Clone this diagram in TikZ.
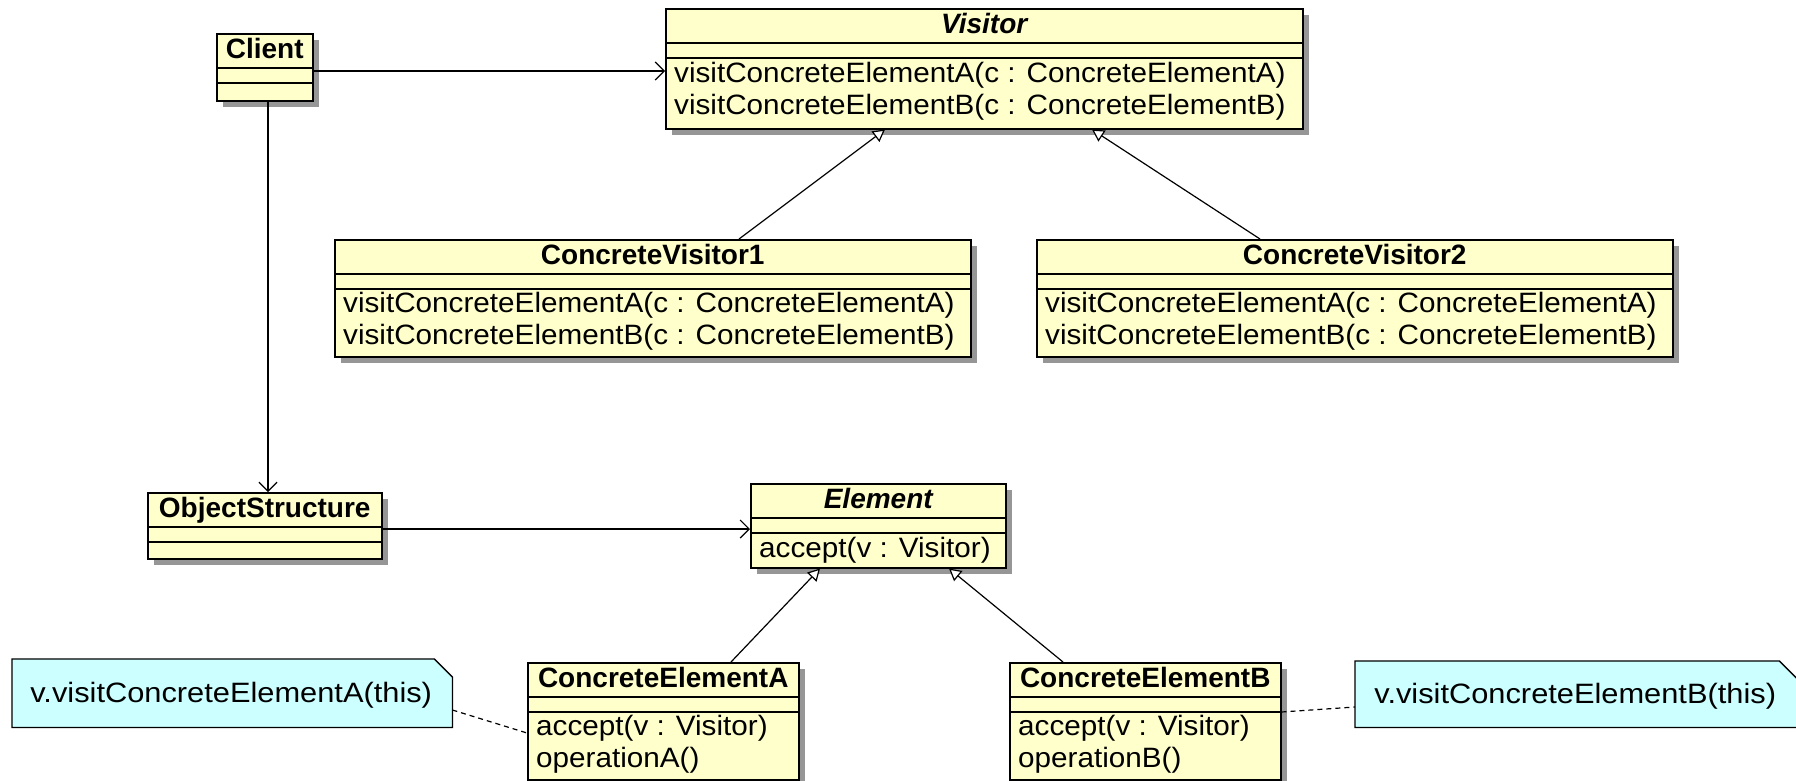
\documentclass[tikz,border=0pt]{standalone}
\usepackage{fontspec}
\setmainfont[FakeStretch=1.06]{Liberation Sans}
\newfontfamily\titlefam[FakeStretch=1.0]{Liberation Sans}
\newfontfamily\notefam[FakeStretch=1.1]{Liberation Sans}
\usetikzlibrary{arrows.meta,calc}
\definecolor{classfill}{RGB}{255,255,204}
\definecolor{notefill}{RGB}{204,255,255}
\definecolor{shadowc}{RGB}{150,150,150}
\tikzset{
  classnode/.style={draw=black, line width=1.5pt, fill=classfill, inner sep=0pt, anchor=north west},
  divider/.style={line width=1.3pt},
  titletext/.style={font=\titlefam\fontsize{28}{30}\selectfont\bfseries, anchor=base, inner sep=0pt},
  abstracttext/.style={font=\titlefam\fontsize{28}{30}\selectfont\bfseries\itshape, anchor=base, inner sep=0pt},
  methodtext/.style={font=\fontsize{28}{30}\selectfont, anchor=base west, inner sep=0pt},
  notetext/.style={font=\notefam\fontsize{28}{30}\selectfont, anchor=base, inner sep=0pt},
  assoc/.style={line width=1.2pt, -{Straight Barb[length=9pt,width=18pt,line width=1.2pt]}},
  gen/.style={line width=1.2pt, -{Triangle[open,length=12pt,width=13pt,fill=white,line width=1.2pt]}},
  notelink/.style={line width=1.2pt, dash pattern=on 5pt off 4pt},
  notenode/.style={inner sep=0pt, anchor=north west},
}
\newcommand{\umlclass}[5]{%
  \fill[shadowc] (#2+7,#3+7) rectangle ++(#4,#5);
  \node[classnode, minimum width=#4pt, minimum height=#5pt] (#1) at (#2,#3) {};
  \draw[divider] ($(#1.north west)+(0,35)$) -- ($(#1.north east)+(0,35)$);
  \draw[divider] ($(#1.north west)+(0,50)$) -- ($(#1.north east)+(0,50)$);
}
\newcommand{\umlnote}[6]{%
  \node[notenode, minimum width=#4pt, minimum height=#5pt] (#1) at (#2,#3) {};
  \filldraw[fill=notefill, line width=1.3pt] (#1.north west) -- ($(#1.north east)+(-18,0)$) -- ($(#1.north east)+(0,18)$) -- (#1.south east) -- (#1.south west) -- cycle;
  \node[notetext] (#1-t) at ($(#1.center)+(-1,9)$) {#6};
}
\begin{document}
\begin{tikzpicture}[x=1pt,y=-1pt]
\useasboundingbox (0,0) rectangle (1796,780);
\clip (0,0) rectangle (1796,780);

% classes
\umlclass{client}{216}{33}{96}{67}
\node[titletext] (client-t) at ($(client.north)+(0,25)$) {Client};

\umlclass{visitor}{665}{8}{637}{120}
\node[abstracttext] (visitor-t) at ($(visitor.north)+(0,25)$) {Visitor};
\node[methodtext] (visitor-m1) at ($(visitor.north west)+(9,74)$) {visitConcreteElementA(c : ConcreteElementA)};
\node[methodtext] (visitor-m2) at ($(visitor.north west)+(9,106)$) {visitConcreteElementB(c : ConcreteElementB)};

\umlclass{cv1}{334}{239}{636}{117}
\node[titletext] (cv1-t) at ($(cv1.north)+(0,25)$) {ConcreteVisitor1};
\node[methodtext] (cv1-m1) at ($(cv1.north west)+(9,73)$) {visitConcreteElementA(c : ConcreteElementA)};
\node[methodtext] (cv1-m2) at ($(cv1.north west)+(9,105)$) {visitConcreteElementB(c : ConcreteElementB)};

\umlclass{cv2}{1036}{239}{636}{117}
\node[titletext] (cv2-t) at ($(cv2.north)+(0,25)$) {ConcreteVisitor2};
\node[methodtext] (cv2-m1) at ($(cv2.north west)+(9,73)$) {visitConcreteElementA(c : ConcreteElementA)};
\node[methodtext] (cv2-m2) at ($(cv2.north west)+(9,105)$) {visitConcreteElementB(c : ConcreteElementB)};

\umlclass{os}{147}{492}{234}{66}
\node[titletext] (os-t) at ($(os.north)+(0,25)$) {ObjectStructure};

\umlclass{element}{750}{483}{255}{84}
\node[abstracttext] (element-t) at ($(element.north)+(0,25)$) {Element};
\node[methodtext] (element-m1) at ($(element.north west)+(9,74)$) {accept(v : Visitor)};

\umlclass{cea}{527}{662}{271}{117}
\node[titletext] (cea-t) at ($(cea.north)+(0,25)$) {ConcreteElementA};
\node[methodtext] (cea-m1) at ($(cea.north west)+(9,73)$) {accept(v : Visitor)};
\node[methodtext] (cea-m2) at ($(cea.north west)+(9,105)$) {operationA()};

\umlclass{ceb}{1009}{662}{271}{117}
\node[titletext] (ceb-t) at ($(ceb.north)+(0,25)$) {ConcreteElementB};
\node[methodtext] (ceb-m1) at ($(ceb.north west)+(9,73)$) {accept(v : Visitor)};
\node[methodtext] (ceb-m2) at ($(ceb.north west)+(9,105)$) {operationB()};

% notes
\umlnote{notea}{12}{659}{440}{68}{v.visitConcreteElementA(this)}
\umlnote{noteb}{1355}{661}{442}{66}{v.visitConcreteElementB(this)}

% associations
\coordinate (c1) at ($(client.north east)+(0,38)$);
\draw[assoc] (c1) -- (c1 -| visitor.west);
\coordinate (c2) at ($(client.south west)+(52,0)$);
\draw[assoc] (c2) -- (c2 |- os.north);
\coordinate (c3) at ($(os.north east)+(0,37)$);
\draw[assoc] (c3) -- (c3 -| element.west);

% generalizations
\draw[gen] ($(cv1.north west)+(405,0)$) -- ($(visitor.south west)+(220,0)$);
\draw[gen] ($(cv2.north west)+(224,0)$) -- ($(visitor.south west)+(427,0)$);
\draw[gen] ($(cea.north west)+(204,0)$) -- ($(element.south west)+(70,0)$);
\draw[gen] ($(ceb.north west)+(54,0)$) -- ($(element.south west)+(199,0)$);

% note links
\draw[notelink] ($(notea.north east)+(0,51)$) -- ($(cea.north west)+(0,71)$);
\draw[notelink] ($(ceb.north east)+(0,50)$) -- ($(noteb.north west)+(0,46)$);
\end{tikzpicture}
\end{document}
